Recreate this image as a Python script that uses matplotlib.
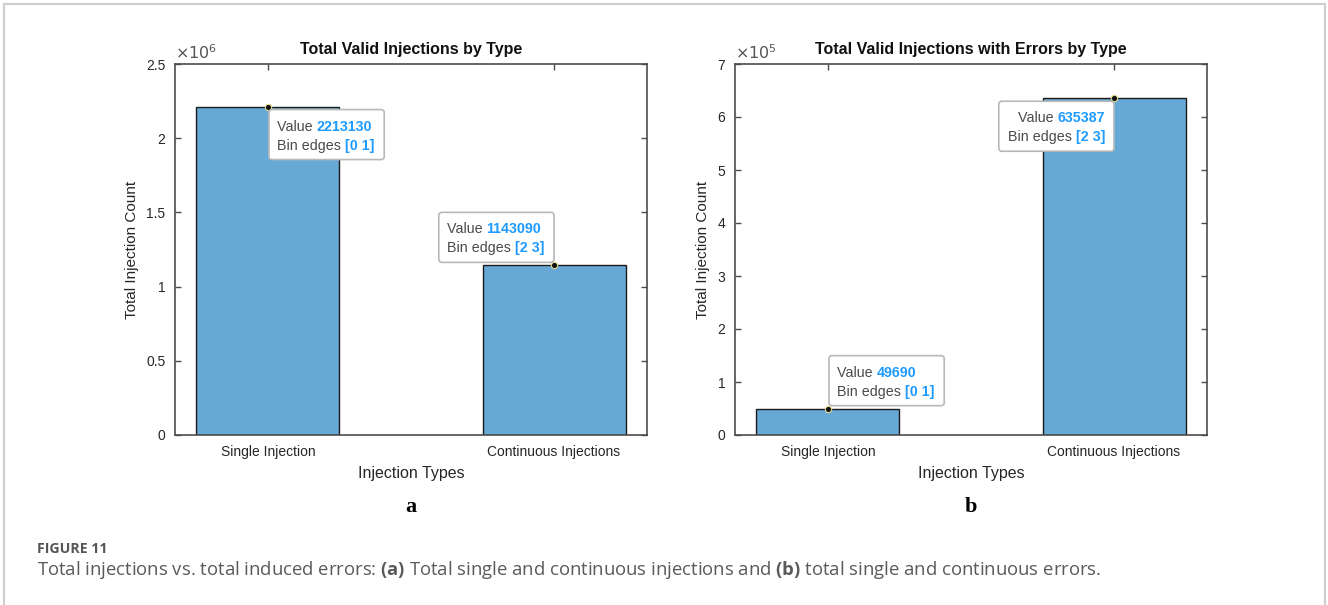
import numpy as np
import matplotlib
matplotlib.use("Agg")
import matplotlib.pyplot as plt
import matplotlib.transforms as mtransforms
from matplotlib.patches import FancyBboxPatch, Rectangle

# data
categories = ["Single Injection", "Continuous Injections"]
bin_edges = [[0, 1], [2, 3]]
total_injections = [2213130, 1143090]
error_injections = [49690, 635387]

titles = ["Total Valid Injections by Type", "Total Valid Injections with Errors by Type"]
y_scales = [1e6, 1e5]
y_tops = [2.5e6, 7e5]
y_steps = [0.5e6, 1e5]
panel_letters = ["a", "b"]
# datatip corner: which side of the point the box goes ("r"/"l", "d"/"u")
tip_sides = [[("r", "d"), ("l", "u")], [("r", "u"), ("l", "d")]]

plt.rcParams['font.family'] = ['Liberation Sans', 'DejaVu Sans']
plt.rcParams['mathtext.fontset'] = 'custom'
plt.rcParams['mathtext.rm'] = 'Open Sans'
plt.rcParams['mathtext.bf'] = 'Open Sans:bold'

bar_col = "#66a9d6"
ax_col = "#4d4d4d"
txt_col = "#262626"

fig = plt.figure(figsize=(13.28, 6.05), dpi=100)
W, H = 1328, 605

# card frame
fig.add_artist(Rectangle((4 / W, -0.05), 1321 / W, 1.05 - 4 / H, transform=fig.transFigure,
                         fill=False, edgecolor="#cfcfcf", linewidth=1.6))

ax_boxes = [(175, 64, 472, 371), (735, 64, 472, 371)]
axes = []
for i, (x0, y0, w, h) in enumerate(ax_boxes):
    ax = fig.add_axes([x0 / W, (H - y0 - h) / H, w / W, h / H])
    axes.append(ax)
    vals = total_injections if i == 0 else error_injections
    for k in range(2):
        lo, hi = bin_edges[k]
        ax.bar(lo, vals[k], width=hi - lo, align="edge", color=bar_col,
               edgecolor="#1a1a1a", linewidth=1.0, zorder=2)
    ax.set_xlim(-0.15, 3.15)
    ax.set_ylim(0, y_tops[i])
    ax.set_xticks([np.mean(e) for e in bin_edges])
    ax.set_xticklabels(categories)
    yt = np.arange(0, y_tops[i] + 1, y_steps[i])
    ax.set_yticks(yt)
    sc = y_scales[i]
    ax.set_yticklabels(["%g" % (v / sc) for v in yt])
    ax.tick_params(direction="in", length=4, width=1, colors=ax_col, labelcolor=txt_col,
                   labelsize=10, top=True, right=True, pad=7)
    for s in ax.spines.values():
        s.set_color(ax_col)
        s.set_linewidth(1.2)
    ax.set_title(titles[i], fontsize=11.5, fontweight="bold", color="#111111", pad=7)
    ax.set_xlabel("Injection Types", fontsize=11.5, color=txt_col, labelpad=5)
    ax.set_ylabel("Total Injection Count", fontsize=11, color=txt_col, labelpad=5)
    ax.text(0.0, 1.005, r"$\times10^{%d}$" % int(np.log10(sc)), transform=ax.transAxes,
            fontsize=11.5, color="#555555", ha="left", va="bottom", family="DejaVu Sans",
            math_fontfamily="dejavusans")
    fig.text((x0 + w / 2) / W, (H - 507) / H, panel_letters[i], family="Liberation Serif",
             fontsize=16, fontweight="bold", ha="center", va="center")

# data tips
renderer = fig.canvas.get_renderer()
ident = mtransforms.IdentityTransform()
fs_tip = 10.3
for i, ax in enumerate(axes):
    vals = total_injections if i == 0 else error_injections
    for k in range(2):
        lo, hi = bin_edges[k]
        px, py = ax.transData.transform(((lo + hi) / 2, vals[k]))
        lines = [("Value ", str(vals[k])), ("Bin edges ", "[%d %d]" % (lo, hi))]
        # measure widths
        widths = []
        for lab, num in lines:
            t1 = fig.text(0, 0, lab, fontsize=fs_tip, transform=ident)
            t2 = fig.text(0, 0, num, fontsize=fs_tip, fontweight="bold", transform=ident)
            w1 = t1.get_window_extent(renderer).width
            w2 = t2.get_window_extent(renderer).width
            t1.remove(); t2.remove()
            widths.append((w1, w2))
        bw = max(a + b for a, b in widths) + 18
        bh = 50
        sx, sy = tip_sides[i][k]
        bx = px + 1 if sx == "r" else px - bw
        by = py - bh - 3 if sy == "d" else py + 3
        box = FancyBboxPatch((bx, by), bw, bh, boxstyle="round,pad=0,rounding_size=3",
                             transform=ident, facecolor="white", edgecolor="#b8b8b8",
                             linewidth=1.2, zorder=5)
        fig.add_artist(box)
        right_align = (i == 1 and k == 1)
        for j, ((lab, num), (w1, w2)) in enumerate(zip(lines, widths)):
            ly = by + bh - 17 - j * 19
            if right_align:
                xr = bx + bw - 9
                fig.text(xr, ly, num, fontsize=fs_tip, fontweight="bold", color="#1f9bff",
                         ha="right", va="center", transform=ident, zorder=6)
                fig.text(xr - w2, ly, lab, fontsize=fs_tip, color="#4a4a4a",
                         ha="right", va="center", transform=ident, zorder=6)
            else:
                xl = bx + 8
                fig.text(xl, ly, lab, fontsize=fs_tip, color="#4a4a4a",
                         ha="left", va="center", transform=ident, zorder=6)
                fig.text(xl + w1, ly, num, fontsize=fs_tip, fontweight="bold", color="#1f9bff",
                         ha="left", va="center", transform=ident, zorder=6)
        ax.plot([(lo + hi) / 2], [vals[k]], marker="o", markersize=4.5, color="#111111",
                markeredgecolor="#e6d98a", markeredgewidth=0.8, zorder=7, clip_on=False)

# caption
fig.text(37 / W, (H - 549) / H, "FIGURE 11", family="Open Sans", fontsize=10.2,
         fontweight="bold", color="#555555", ha="left", va="center")
fig.text(37 / W, (H - 570) / H,
         r"Total injections vs. total induced errors: $\mathbf{(a)}$ Total single and continuous "
         r"injections and $\mathbf{(b)}$ total single and continuous errors.",
         family="Open Sans", fontsize=13.3, color="#5a5a5a", ha="left", va="center")

fig.savefig("out.png", dpi=100)
